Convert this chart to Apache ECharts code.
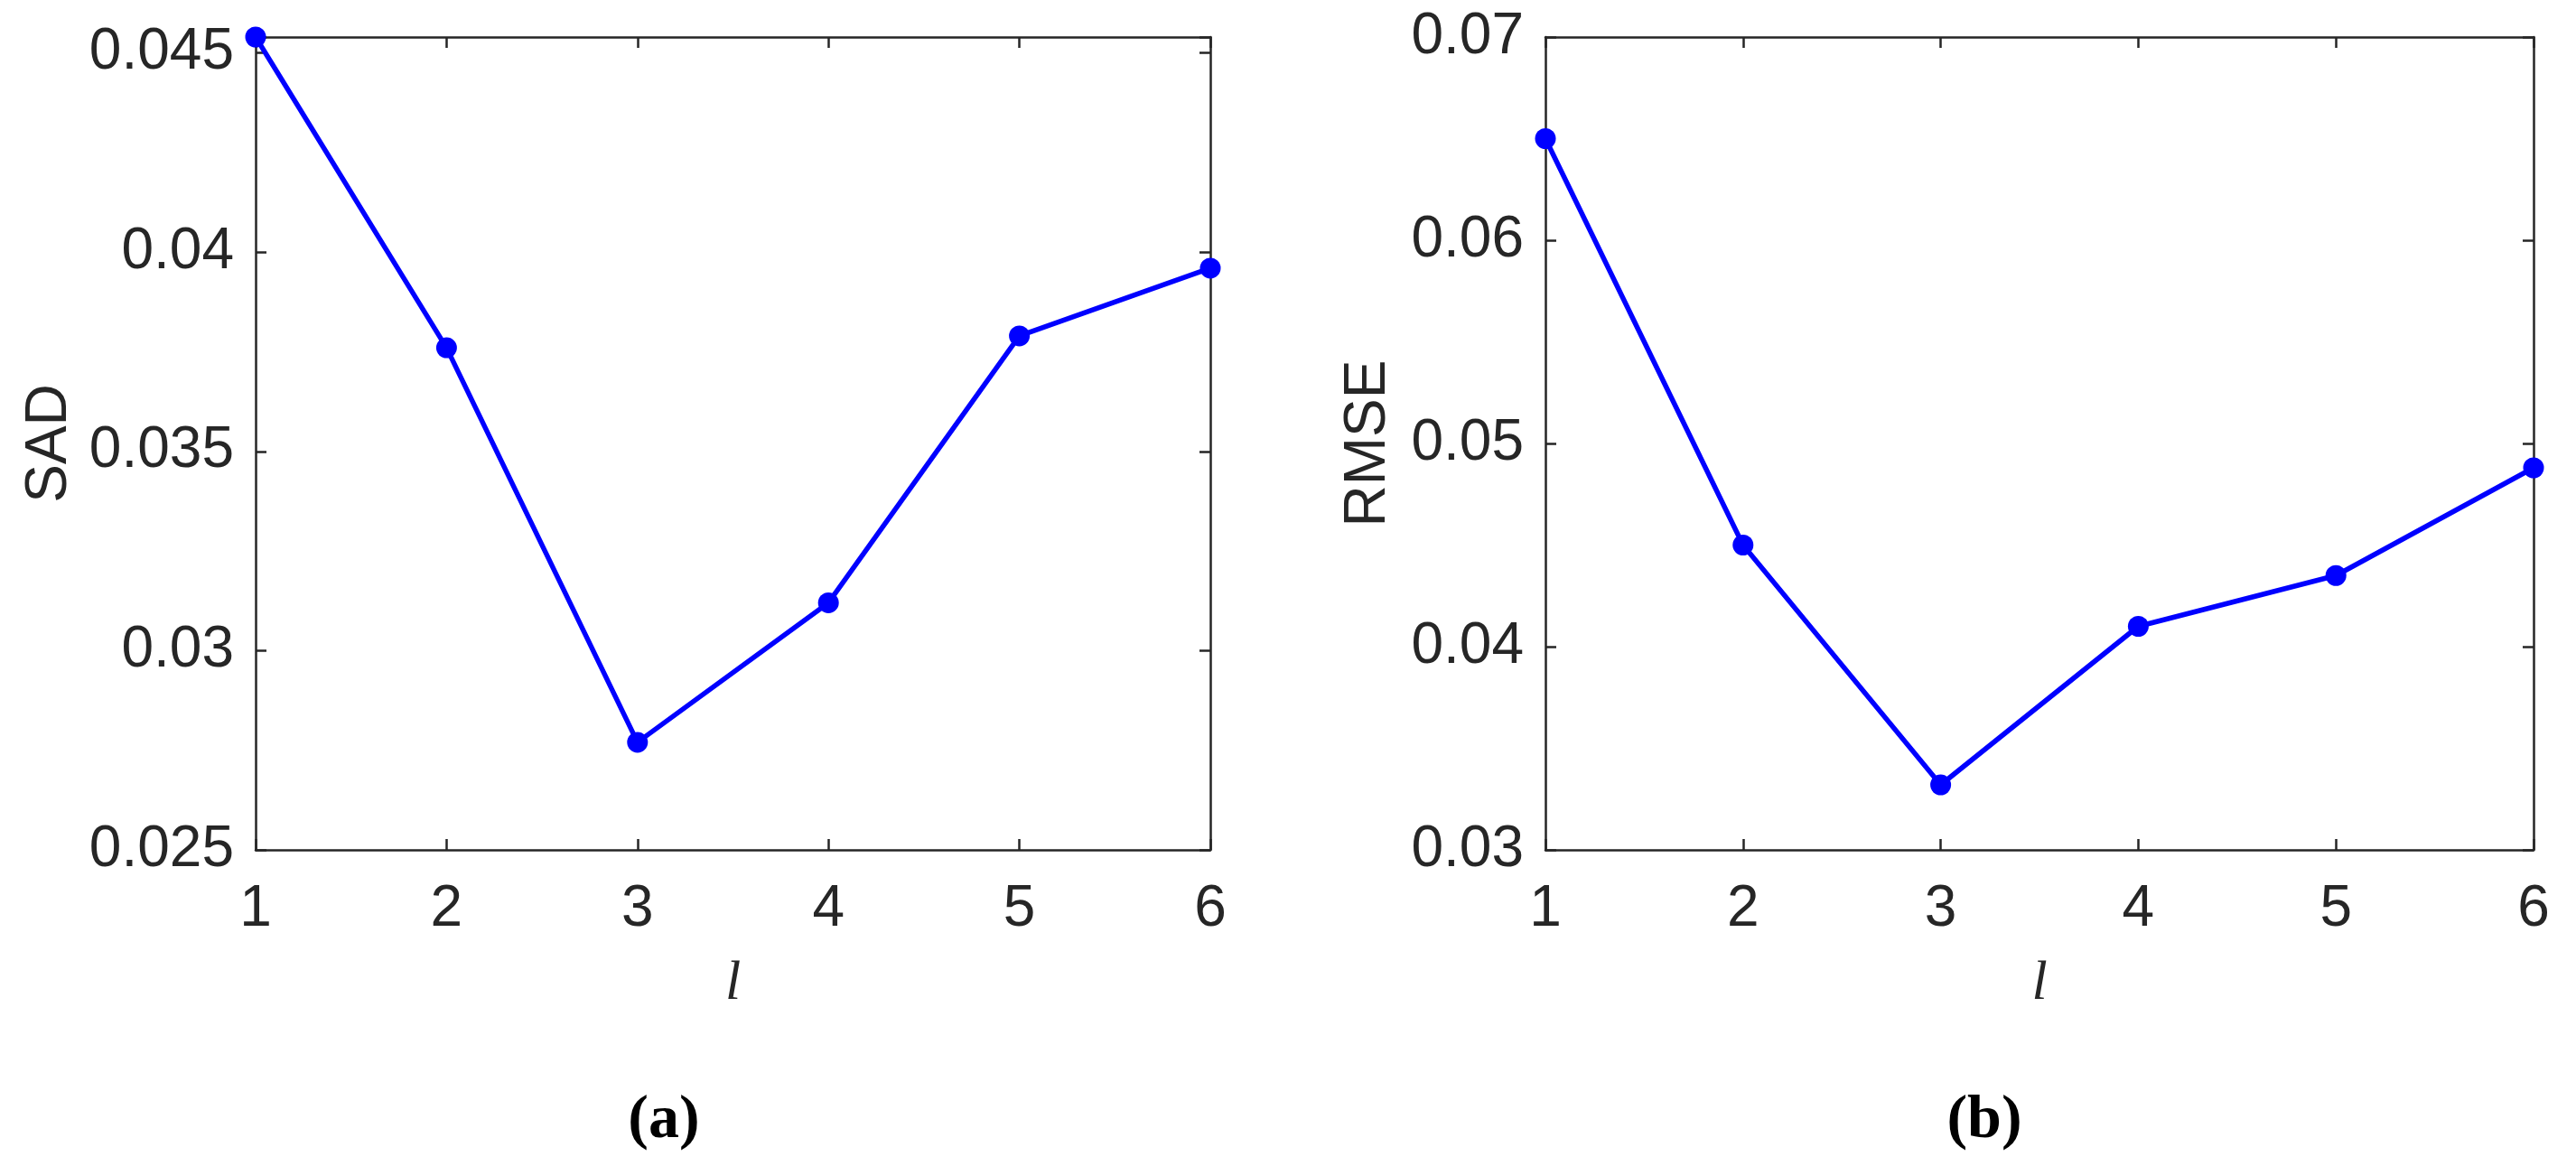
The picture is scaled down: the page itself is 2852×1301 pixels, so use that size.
<!DOCTYPE html>
<html>
<head>
<meta charset="utf-8">
<script src="https://cdn.jsdelivr.net/npm/echarts@6/dist/echarts.min.js"></script>
<style>
html,body{margin:0;padding:0;background:#fff;}
#c{width:2852px;height:1301px;}
</style>
</head>
<body>
<div id="c"></div>
<script>
const lValues = [1, 2, 3, 4, 5, 6];
const sadValues = [0.0454, 0.0376, 0.0277, 0.0312, 0.0379, 0.0396];
const rmseValues = [0.0650, 0.0450, 0.0332, 0.0410, 0.0435, 0.0488];
const sadTicks = [0.025, 0.03, 0.035, 0.04, 0.045];
const rmseTicks = [0.03, 0.04, 0.05, 0.06, 0.07];
const captions = ['(a)', '(b)'];
const yNames = ['SAD', 'RMSE'];
const xName = 'l';

const AX = '#262626';
const labelFont = {color: AX, fontFamily: 'Liberation Sans', fontSize: 64};

function tickFormatter(ticks) {
  return function (v) {
    for (const t of ticks) if (Math.abs(v - t) < 1e-9) return String(t);
    return '';
  };
}

function xAxes(gi) {
  return [
    {
      gridIndex: gi, type: 'value', position: 'bottom', min: 1, max: 6, interval: 1,
      name: xName, nameLocation: 'middle', nameGap: 118,
      nameTextStyle: {fontFamily: 'Liberation Serif', fontStyle: 'italic', fontSize: 62, color: AX, verticalAlign: 'top'},
      axisLine: {show: true, onZero: false, lineStyle: {color: AX, width: 2.5}},
      axisTick: {show: true, inside: true, length: 12, lineStyle: {color: AX, width: 2.5}},
      axisLabel: Object.assign({margin: 34}, labelFont),
      splitLine: {show: false}
    },
    {
      gridIndex: gi, type: 'value', position: 'top', min: 1, max: 6, interval: 1,
      axisLine: {show: true, onZero: false, lineStyle: {color: AX, width: 2.5}},
      axisTick: {show: true, inside: true, length: 12, lineStyle: {color: AX, width: 2.5}},
      axisLabel: {show: false},
      splitLine: {show: false}
    }
  ];
}

function yAxes(gi, min, max, interval, ticks, name, nameGap) {
  return [
    {
      gridIndex: gi, type: 'value', position: 'left', min: min, max: max, interval: interval,
      name: name, nameLocation: 'middle', nameGap: nameGap, nameRotate: 90,
      nameTextStyle: {fontFamily: 'Liberation Sans', fontSize: 64, color: AX},
      axisLine: {show: true, onZero: false, lineStyle: {color: AX, width: 2.5}},
      axisTick: {show: true, inside: true, length: 12, lineStyle: {color: AX, width: 2.5}},
      axisLabel: Object.assign({margin: 24, formatter: tickFormatter(ticks), showMaxLabel: true}, labelFont),
      splitLine: {show: false}
    },
    {
      gridIndex: gi, type: 'value', position: 'right', min: min, max: max, interval: interval,
      axisLine: {show: true, onZero: false, lineStyle: {color: AX, width: 2.5}},
      axisTick: {show: true, inside: true, length: 12, lineStyle: {color: AX, width: 2.5}},
      axisLabel: {show: false},
      splitLine: {show: false}
    }
  ];
}

function seriesFor(gi, ys) {
  return {
    type: 'line',
    xAxisIndex: gi * 2, yAxisIndex: gi * 2,
    data: lValues.map((x, i) => [x, ys[i]]),
    symbol: 'circle', symbolSize: 23,
    lineStyle: {color: '#0000ff', width: 5.5},
    itemStyle: {color: '#0000ff'},
    clip: false, animation: false
  };
}

const chart = echarts.init(document.getElementById('c'));
chart.setOption({
  animation: false,
  backgroundColor: '#ffffff',
  grid: [
    {left: 283, top: 41, width: 1057, height: 900},
    {left: 1711, top: 41, width: 1094, height: 900}
  ],
  xAxis: [...xAxes(0), ...xAxes(1)],
  yAxis: [
    ...yAxes(0, 0.025, 0.0454, 0.005, sadTicks, yNames[0], 196),
    ...yAxes(1, 0.03, 0.07, 0.01, rmseTicks, yNames[1], 164)
  ],
  series: [seriesFor(0, sadValues), seriesFor(1, rmseValues)],
  graphic: [
    {type: 'text', x: 735, y: 1241, style: {text: captions[0], fontFamily: 'Liberation Serif', fontWeight: 'bold', fontSize: 68, fill: '#000', align: 'center', verticalAlign: 'middle'}},
    {type: 'text', x: 2197, y: 1241, style: {text: captions[1], fontFamily: 'Liberation Serif', fontWeight: 'bold', fontSize: 68, fill: '#000', align: 'center', verticalAlign: 'middle'}}
  ]
});
</script>
</body>
</html>
